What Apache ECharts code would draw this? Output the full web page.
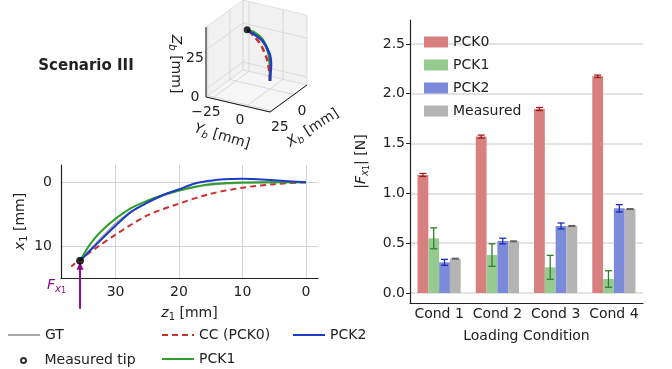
<!DOCTYPE html>
<html>
<head>
<meta charset="utf-8">
<script src="https://cdn.jsdelivr.net/npm/echarts@6/dist/echarts.min.js"></script>
<style>
html, body { margin: 0; padding: 0; background: #fff; }
#chart { width: 672px; height: 369px; }
</style>
</head>
<body>
<div id="chart"></div>
<script>
// ---- shape data (z1 [mm] along the rod, x1 [mm] deflection) ----
var zGT   = [0, 5, 10, 15, 17.5, 20, 22.5, 25, 27.5, 30, 32.5, 34, 35.6];
var xGT   = [0, 0.0, 0.1, 0.4, 0.75, 1.3, 2.1, 3.2, 4.6, 6.5, 9.0, 10.6, 12.3];
var zCC   = [0, 5, 10, 15, 20, 25, 30, 32.5, 35.6, 37];
var xCC   = [0, 0.3, 0.85, 1.8, 3.35, 5.2, 8.2, 9.9, 12.1, 13.2];
var zPCK1 = [0, 5, 10, 15, 17.5, 20, 22.5, 25, 27.5, 30, 32.5, 34, 35.6];
var xPCK1 = [0, 0.0, 0.05, 0.3, 0.7, 1.3, 2.0, 2.9, 4.0, 5.7, 7.9, 9.7, 12.3];
var zPCK2 = [0, 5, 10, 13, 15, 17.5, 20, 22.5, 25, 27.5, 30, 32.5, 34, 35.6];
var xPCK2 = [0, -0.3, -0.55, -0.47, -0.25, 0.2, 1.1, 2.0, 3.2, 4.6, 6.8, 9.2, 10.7, 12.3];
var tipZ = 35.6, tipX = 12.3;

var zTicks = [0, 10, 20, 30];
var x1Ticks = [0, 10];

// ---- force data ----
var conds = ['Cond 1', 'Cond 2', 'Cond 3', 'Cond 4'];
var pck0 = [1.185, 1.57, 1.847, 2.175];
var pck0Err = [0.015, 0.015, 0.015, 0.012];
var pck1 = [0.549, 0.381, 0.258, 0.141];
var pck1Err = [0.105, 0.113, 0.12, 0.083];
var pck2 = [0.308, 0.522, 0.673, 0.85];
var pck2Err = [0.03, 0.028, 0.03, 0.037];
var measured = [0.345, 0.519, 0.673, 0.843];
var measuredErr = [0.004, 0.004, 0.004, 0.004];
var forceTicks = [0, 0.5, 1, 1.5, 2, 2.5];

// ---- 3d view (body frame) ----
var xLim3 = [-14.7, 27], yLim3 = [-29.4, 17.6], zLim3 = [-5.1, 39.7];
var xTicks3 = [0, 25], yTicks3 = [-25, 0], zTicks3 = [0, 25];
var bendX = 0.93, bendY = -0.756; // direction of the bending plane in body frame

var FONT = 'DejaVu Sans';
var INK = '#222';

// simple parallel projection of the 3d box into the page
var view = { ox: 206, oy: 97, ex: [-0.887, 0.647], ey: [1.362, 0.319], ez: [0, -1.56] };
function P(X, Y, Z) {
    var dx = X - xLim3[1], dy = Y - yLim3[0], dz = Z - zLim3[0];
    return [view.ox + dx * view.ex[0] + dy * view.ey[0] + dz * view.ez[0],
            view.oy + dx * view.ex[1] + dy * view.ey[1] + dz * view.ez[1]];
}

function pairs(a, b) {
    var out = [];
    for (var i = 0; i < a.length; i++) out.push([a[i], b[i]]);
    return out;
}
function curve3d(z, x) {
    var out = [];
    for (var i = 0; i < z.length; i++) out.push(P(bendX * x[i], bendY * x[i], z[i]));
    return out;
}

var richTxt = {
    i: { fontStyle: 'italic', fontSize: 14, fontFamily: FONT, lineHeight: 20 },
    s: { fontStyle: 'italic', fontSize: 10, fontFamily: FONT, lineHeight: 12, padding: [8, 0, 0, 0] },
    n: { fontSize: 8, fontFamily: FONT, lineHeight: 9, padding: [11, 0, 0, 0] },
    u: { fontSize: 10, fontFamily: FONT, lineHeight: 12, padding: [8, 0, 0, 0] }
};

// 3d box pieces
var x0 = xLim3[0], x1 = xLim3[1], y0 = yLim3[0], y1 = yLim3[1], z0 = zLim3[0], z1 = zLim3[1];
var panes3 = [
    [[x1, y0, z0], [x0, y0, z0], [x0, y0, z1], [x1, y0, z1]],
    [[x0, y0, z0], [x0, y1, z0], [x0, y1, z1], [x0, y0, z1]],
    [[x1, y0, z0], [x1, y1, z0], [x0, y1, z0], [x0, y0, z0]]
];
var grid3 = [];
xTicks3.forEach(function (X) { grid3.push([[X, y0, z0], [X, y1, z0]]); grid3.push([[X, y0, z0], [X, y0, z1]]); });
yTicks3.forEach(function (Y) { grid3.push([[x0, Y, z0], [x1, Y, z0]]); grid3.push([[x0, Y, z0], [x0, Y, z1]]); });
zTicks3.forEach(function (Z) { grid3.push([[x0, y0, Z], [x1, y0, Z]]); grid3.push([[x0, y0, Z], [x0, y1, Z]]); });
var axes3 = [
    [[x1, y0, z0], [x1, y0, z1]],
    [[x1, y0, z0], [x1, y1, z0]],
    [[x1, y1, z0], [x0, y1, z0]]
];
function segData(list) {
    return list.map(function (s) {
        var a = P(s[0][0], s[0][1], s[0][2]), b = P(s[1][0], s[1][1], s[1][2]);
        return [a[0], a[1], b[0], b[1]];
    });
}
function segSeries(list, color, width, z) {
    return {
        type: 'custom', xAxisIndex: 2, yAxisIndex: 2, silent: true, z: z,
        data: segData(list),
        renderItem: function (params, api) {
            var a = api.coord([api.value(0), api.value(1)]);
            var b = api.coord([api.value(2), api.value(3)]);
            return { type: 'line', shape: { x1: a[0], y1: a[1], x2: b[0], y2: b[1] },
                     style: { stroke: color, lineWidth: width } };
        }
    };
}

// error bars over grouped bars
var barW = 10.8;
function errSeries(name, vals, errs, k, color) {
    return {
        name: name, type: 'custom', xAxisIndex: 1, yAxisIndex: 1, z: 5, silent: true,
        data: vals.map(function (v, i) { return [i, v, errs[i]]; }),
        renderItem: function (params, api) {
            var i = api.value(0), v = api.value(1), e = api.value(2);
            var hi = api.coord([i, v + e]), lo = api.coord([i, v - e]);
            var x = hi[0] + (k - 1.5) * barW;
            var st = { stroke: color, lineWidth: 1.3 };
            return { type: 'group', children: [
                { type: 'line', shape: { x1: x, y1: hi[1], x2: x, y2: lo[1] }, style: st },
                { type: 'line', shape: { x1: x - 3.5, y1: hi[1], x2: x + 3.5, y2: hi[1] }, style: st },
                { type: 'line', shape: { x1: x - 3.5, y1: lo[1], x2: x + 3.5, y2: lo[1] }, style: st }
            ] };
        }
    };
}

var lineCol = { gt: '#a8a8a8', cc: '#c93030', p1: '#2ca02c', p2: '#1f3dc4' };
var barCol = { p0: '#d88080', p1: '#97ca91', p2: '#7b8bda', m: '#b4b4b4' };
var errCol = { p0: '#a31c1c', p1: '#2e812e', p2: '#1a2fb4', m: '#626262' };

// 3d tick labels and titles
var graphics = [];
function addText(x, y, text, rot, extra) {
    var st = { text: text, fontSize: 14, fontFamily: FONT, fill: INK, align: 'center',
               verticalAlign: 'middle', lineHeight: 20, rich: richTxt };
    for (var k in extra) st[k] = extra[k];
    graphics.push({ type: 'text', x: x, y: y, rotation: rot || 0, style: st, silent: true });
}
zTicks3.forEach(function (Z) { var p = P(x1, y0, Z); addText(p[0] - 11, p[1] + 8, String(Z)); });
yTicks3.forEach(function (Y) { var p = P(x1, Y, z0); addText(p[0] - 6, p[1] + 14, String(Y).replace('-', '\u2212')); });
xTicks3.forEach(function (X) { var p = P(X, y1, z0); addText(p[0] + 8, p[1] + 17, String(X)); });
(function () {
    var pz = P(x1, y0, (z0 + z1) / 2);
    addText(pz[0] - 30, pz[1] + 2, '{i|Z}{s|b} [mm]', -Math.PI / 2);
    var py = P(x1, (y0 + y1) / 2, z0);
    addText(py[0] - 16, py[1] + 32, '{i|Y}{s|b} [mm]', -0.29);
    var px = P((x0 + x1) / 2, y1, z0);
    addText(px[0] + 24.5, px[1] + 29.5, '{i|X}{s|b} [mm]', 0.57);
})();
addText(86, 66, 'Scenario III', 0, { fontWeight: 'bold', fontSize: 15 });

var nameTxt = { fontSize: 14, fontFamily: FONT, color: INK, lineHeight: 20, rich: richTxt };

var chart = echarts.init(document.getElementById('chart'));
chart.setOption({
    animation: false,
    backgroundColor: '#fff',
    textStyle: { fontFamily: FONT },
    graphic: graphics,
    grid: [
        { left: 61, top: 165, width: 257, height: 113 },
        { left: 410, top: 20, width: 233, height: 283 },
        { left: 0, top: 0, width: 672, height: 369 }
    ],
    xAxis: [
        { gridIndex: 0, type: 'value', inverse: true, min: -1.9, max: 38.6,
          axisLine: { show: true, onZero: false, lineStyle: { color: INK, width: 1.2 } },
          axisTick: { show: false, customValues: zTicks },
          axisLabel: { customValues: zTicks, margin: 7, fontSize: 14, fontFamily: FONT, color: INK },
          splitLine: { show: true, lineStyle: { color: '#d4d4d4', width: 1 } },
          name: '{i|z}{u|1} [mm]', nameLocation: 'middle', nameGap: 25, nameTextStyle: nameTxt },
        { gridIndex: 1, type: 'category', data: conds,
          axisLine: { show: true, onZero: false, lineStyle: { color: INK, width: 1.2 } },
          axisTick: { show: false },
          axisLabel: { interval: 0, margin: 4, fontSize: 14, fontFamily: FONT, color: INK },
          name: 'Loading Condition', nameLocation: 'middle', nameGap: 20, nameTextStyle: nameTxt },
        { gridIndex: 2, type: 'value', min: 0, max: 672, show: false }
    ],
    yAxis: [
        { gridIndex: 0, type: 'value', inverse: true, min: -2.7, max: 15,
          axisLine: { show: true, onZero: false, lineStyle: { color: INK, width: 1.2 } },
          axisTick: { show: false, customValues: x1Ticks },
          axisLabel: { customValues: x1Ticks, margin: 9, fontSize: 14, fontFamily: FONT, color: INK },
          splitLine: { show: true, lineStyle: { color: '#d4d4d4', width: 1 } },
          name: '{i|x}{u|1} [mm]', nameLocation: 'middle', nameRotate: 90, nameGap: 30, nameTextStyle: nameTxt },
        { gridIndex: 1, type: 'value', min: -0.1, max: 2.74,
          axisLine: { show: true, onZero: false, lineStyle: { color: INK, width: 1.2 } },
          axisTick: { show: true, length: 4, customValues: forceTicks, lineStyle: { color: INK } },
          axisLabel: { customValues: forceTicks, margin: 5, fontSize: 14, fontFamily: FONT, color: INK,
                       formatter: function (v) { return v.toFixed(1); } },
          splitLine: { show: true, lineStyle: { color: '#dadada', width: 1.5 } },
          name: '|{i|F}{s|x}{n|1}| [N]', nameLocation: 'middle', nameRotate: 90, nameGap: 39, nameTextStyle: nameTxt },
        { gridIndex: 2, type: 'value', min: 0, max: 369, inverse: true, show: false }
    ],
    legend: [
        { data: ['GT'], left: 7, top: 328, itemStyle: { opacity: 0 } },
        { data: ['CC (PCK0)'], left: 161, top: 328, itemStyle: { opacity: 0 } },
        { data: ['PCK2 line'], left: 292, top: 328, itemStyle: { opacity: 0 } },
        { data: [{ name: 'Measured tip', icon: 'emptyCircle' }], left: 20, top: 353.5, itemHeight: 5 },
        { data: ['PCK1 line'], left: 161, top: 352, itemStyle: { opacity: 0 } },
        { data: ['PCK0', 'PCK1', 'PCK2', 'Measured'], orient: 'vertical', left: 424, top: 35,
          itemWidth: 24, itemHeight: 11, itemGap: 9, icon: 'rect' }
    ].map(function (l) {
        l.itemWidth = l.itemWidth || 32;
        l.itemHeight = l.itemHeight || 14;
        l.itemGap = l.itemGap || 10;
        l.padding = 0;
        l.selectedMode = false;
        l.textStyle = { fontSize: 14, fontFamily: FONT, color: INK };
        l.formatter = function (n) { return n.replace(' line', ''); };
        return l;
    }),
    series: [
        // 2d shape
        { name: 'GT', type: 'line', xAxisIndex: 0, yAxisIndex: 0, data: pairs(zGT, xGT), symbol: 'none', smooth: 0.3,
          lineStyle: { color: lineCol.gt, width: 2 }, itemStyle: { color: lineCol.gt } },
        { name: 'CC (PCK0)', type: 'line', xAxisIndex: 0, yAxisIndex: 0, data: pairs(zCC, xCC), symbol: 'none', smooth: 0.3,
          lineStyle: { color: lineCol.cc, width: 2, type: [6, 4] }, itemStyle: { color: lineCol.cc } },
        { name: 'PCK1 line', type: 'line', xAxisIndex: 0, yAxisIndex: 0, data: pairs(zPCK1, xPCK1), symbol: 'none', smooth: 0.3,
          lineStyle: { color: lineCol.p1, width: 2 }, itemStyle: { color: lineCol.p1 } },
        { name: 'PCK2 line', type: 'line', xAxisIndex: 0, yAxisIndex: 0, data: pairs(zPCK2, xPCK2), symbol: 'none', smooth: 0.3,
          lineStyle: { color: lineCol.p2, width: 2 }, itemStyle: { color: lineCol.p2 } },
        { name: 'Measured tip', type: 'scatter', xAxisIndex: 0, yAxisIndex: 0, data: [[tipZ, tipX]], symbolSize: 7, z: 6,
          itemStyle: { color: '#000', borderColor: '#000' } },
        { type: 'custom', xAxisIndex: 0, yAxisIndex: 0, data: [[tipZ, tipX]], z: 5, silent: true,
          renderItem: function (params, api) {
              var p = api.coord([api.value(0), api.value(1)]);
              var col = '#8b0a8b';
              return { type: 'group', children: [
                  { type: 'line', shape: { x1: p[0], y1: p[1] + 48, x2: p[0], y2: p[1] + 7 }, style: { stroke: col, lineWidth: 2 } },
                  { type: 'polygon', shape: { points: [[p[0], p[1] + 1], [p[0] - 3.5, p[1] + 9], [p[0] + 3.5, p[1] + 9]] }, style: { fill: col } },
                  { type: 'text', x: p[0] - 33, y: p[1] + 25, style: { text: '{i|F}{s|x}{n|1}', rich: richTxt, fill: col,
                    fontSize: 14, fontFamily: FONT, lineHeight: 20, align: 'left', verticalAlign: 'middle' } }
              ] };
          } },

        // force bars
        { name: 'PCK0', type: 'bar', xAxisIndex: 1, yAxisIndex: 1, data: pck0, barWidth: barW, barGap: '0%', itemStyle: { color: barCol.p0 } },
        { name: 'PCK1', type: 'bar', xAxisIndex: 1, yAxisIndex: 1, data: pck1, barWidth: barW, barGap: '0%', itemStyle: { color: barCol.p1 } },
        { name: 'PCK2', type: 'bar', xAxisIndex: 1, yAxisIndex: 1, data: pck2, barWidth: barW, barGap: '0%', itemStyle: { color: barCol.p2 } },
        { name: 'Measured', type: 'bar', xAxisIndex: 1, yAxisIndex: 1, data: measured, barWidth: barW, barGap: '0%', itemStyle: { color: barCol.m } },
        errSeries('err0', pck0, pck0Err, 0, errCol.p0),
        errSeries('err1', pck1, pck1Err, 1, errCol.p1),
        errSeries('err2', pck2, pck2Err, 2, errCol.p2),
        errSeries('err3', measured, measuredErr, 3, errCol.m),

        // 3d view
        { type: 'custom', xAxisIndex: 2, yAxisIndex: 2, silent: true, z: 1,
          data: panes3.map(function (p, i) { return [i]; }),
          renderItem: function (params, api) {
              var pts = panes3[params.dataIndex].map(function (c) { return api.coord(P(c[0], c[1], c[2])); });
              return { type: 'polygon', shape: { points: pts },
                       style: { fill: params.dataIndex === 2 ? '#f6f6f6' : '#f1f1f1', stroke: '#d9d9d9', lineWidth: 0.8 } };
          } },
        segSeries(grid3, '#d4d4d4', 0.8, 1),
        segSeries(axes3, '#111', 1, 2),
        { name: '3d GT', type: 'line', xAxisIndex: 2, yAxisIndex: 2, data: curve3d(zGT, xGT), symbol: 'none', smooth: 0.3, z: 3,
          lineStyle: { color: lineCol.gt, width: 2.5 } },
        { name: '3d PCK1', type: 'line', xAxisIndex: 2, yAxisIndex: 2, data: curve3d(zPCK1, xPCK1), symbol: 'none', smooth: 0.3, z: 3,
          lineStyle: { color: lineCol.p1, width: 2.5 } },
        { name: '3d CC', type: 'line', xAxisIndex: 2, yAxisIndex: 2, data: curve3d(zCC, xCC), symbol: 'none', smooth: 0.3, z: 3,
          lineStyle: { color: lineCol.cc, width: 2.5, type: [6, 4] } },
        { name: '3d PCK2', type: 'line', xAxisIndex: 2, yAxisIndex: 2, data: curve3d(zPCK2, xPCK2), symbol: 'none', smooth: 0.3, z: 3,
          lineStyle: { color: lineCol.p2, width: 2.5 } },
        { name: '3d tip', type: 'scatter', xAxisIndex: 2, yAxisIndex: 2, data: [P(bendX * tipX, bendY * tipX, tipZ)], symbolSize: 7, z: 4,
          itemStyle: { color: '#000' } }
    ]
});
</script>
</body>
</html>
